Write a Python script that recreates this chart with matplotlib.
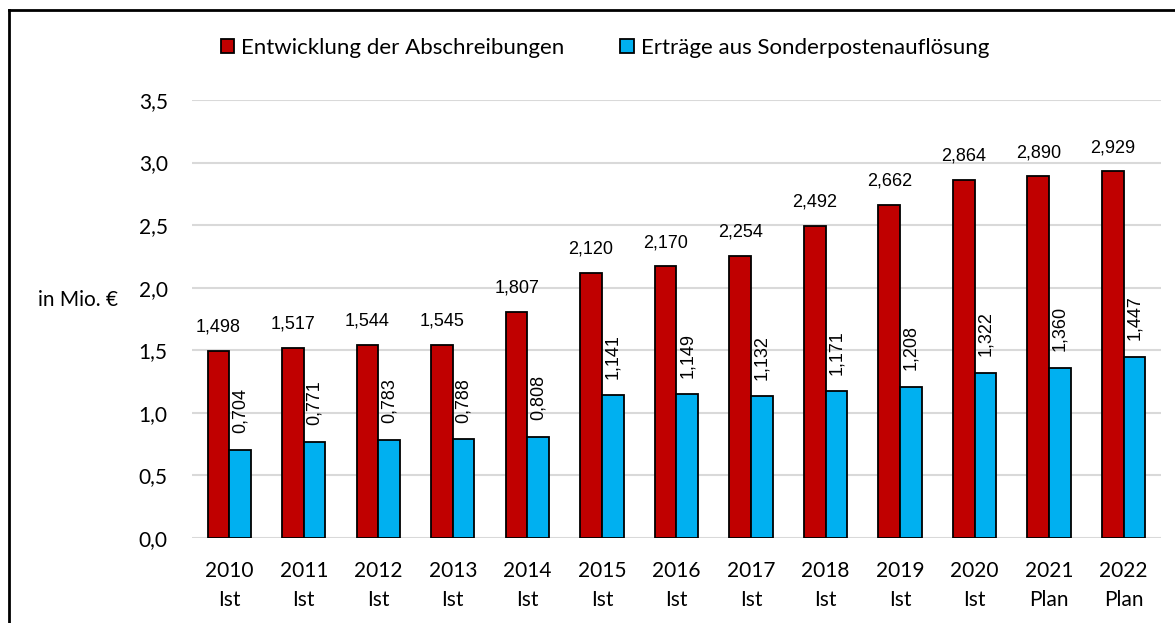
import matplotlib.pyplot as plt
import numpy as np
from matplotlib.lines import Line2D

years = ["2010", "2011", "2012", "2013", "2014", "2015", "2016", "2017", "2018", "2019", "2020", "2021", "2022"]
status = ["Ist"] * 11 + ["Plan", "Plan"]
abschreibungen = [1.498, 1.517, 1.544, 1.545, 1.807, 2.120, 2.170, 2.254, 2.492, 2.662, 2.864, 2.890, 2.929]
ertraege = [0.704, 0.771, 0.783, 0.788, 0.808, 1.141, 1.149, 1.132, 1.171, 1.208, 1.322, 1.360, 1.447]

red = "#C00000"
blue = "#00B0F0"
tick_font = "Lato"
label_font = "Liberation Sans"

fig = plt.figure(figsize=(11.75, 6.23), dpi=100)
ax = fig.add_axes([0.1634, 0.1364, 0.8246, 0.7031])

x = np.arange(len(years))
w = 0.29
ax.bar(x - w / 2, abschreibungen, w, color=red, edgecolor="black", linewidth=1.3,
       label="Entwicklung der Abschreibungen", zorder=3)
ax.bar(x + w / 2, ertraege, w, color=blue, edgecolor="black", linewidth=1.3,
       label="Erträge aus Sonderpostenauflösung", zorder=3)

fmt = lambda v: f"{v:.3f}".replace(".", ",")
for xi, v in zip(x, abschreibungen):
    ax.annotate(fmt(v), (xi - w / 2, v), xytext=(0, 11), textcoords="offset points",
                ha="center", va="bottom", fontsize=13, family=label_font)
for xi, v in zip(x, ertraege):
    ax.annotate(fmt(v), (xi + w / 2, v), xytext=(0, 12), textcoords="offset points",
                ha="center", va="bottom", rotation=90, fontsize=13, family=label_font)

ax.set_xlim(-0.5, len(years) - 0.5)
ax.set_ylim(0, 3.5)
ax.set_yticks(np.arange(0, 3.51, 0.5))
ax.set_yticklabels([f"{t:.1f}".replace(".", ",") for t in np.arange(0, 3.51, 0.5)],
                   fontsize=15, family=tick_font)
ax.set_xticks(x)
ax.set_xticklabels([f"{y}\n{s}" for y, s in zip(years, status)], fontsize=15,
                   family=tick_font, linespacing=1.56)
ax.tick_params(axis="both", length=0)
ax.tick_params(axis="y", pad=17.5)
ax.tick_params(axis="x", pad=16.5)
ax.grid(axis="y", color="#d9d9d9", linewidth=1.5, zorder=0)
for s in ax.spines.values():
    s.set_visible(False)

fig.text(0.032, 0.518, "in Mio. €", fontsize=15, family=tick_font, va="center", ha="left")

ax.legend(loc="center left", bbox_to_anchor=(221 / 1175, 1 - 48 / 623),
          bbox_transform=fig.transFigure, ncol=2, frameon=False,
          prop={"family": tick_font, "size": 16}, handlelength=0.6, handleheight=0.6,
          handletextpad=0.32, columnspacing=2.5, borderpad=0, borderaxespad=0)

# frame around the chart (cut at right/bottom)
fig.add_artist(Line2D([8.5 / 1175, 1.0], [1 - 9.5 / 623] * 2, color="black", linewidth=2,
                      transform=fig.transFigure))
fig.add_artist(Line2D([8.5 / 1175] * 2, [0, 1 - 9.5 / 623], color="black", linewidth=2,
                      transform=fig.transFigure))

fig.savefig("out.png", dpi=100)
